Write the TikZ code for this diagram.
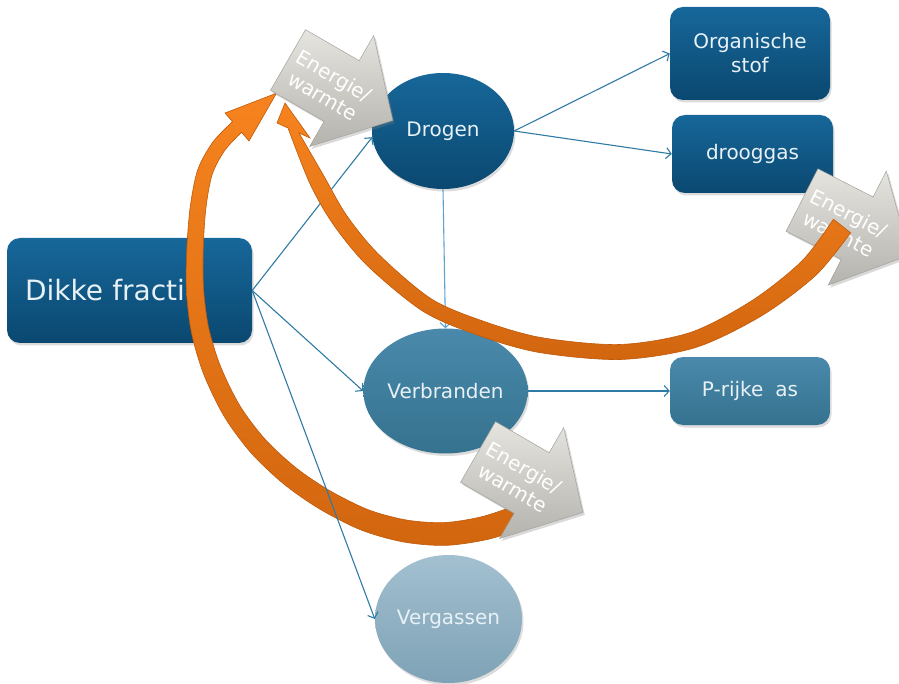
\documentclass[tikz,border=0pt]{standalone}
\usepackage{fontspec}
\setmainfont{DejaVu Sans}
\usetikzlibrary{arrows.meta,shadows,shapes.geometric}
\definecolor{bTop}{HTML}{17679A}
\definecolor{bBot}{HTML}{0A4870}
\definecolor{mTop}{HTML}{4A89AB}
\definecolor{mBot}{HTML}{35728F}
\definecolor{lTop}{HTML}{A2C0D0}
\definecolor{lBot}{HTML}{7FA2B6}
\definecolor{txt}{HTML}{E8F1F6}
\definecolor{lineblue}{HTML}{2E7BA5}
\definecolor{linelight}{HTML}{5FA2D2}
\definecolor{oTop}{HTML}{F6831E}
\definecolor{oBot}{HTML}{D2660F}
\definecolor{oEdge}{HTML}{C0590A}
\definecolor{gTop}{HTML}{E6E4DF}
\definecolor{gBot}{HTML}{B5B3AD}
\definecolor{gEdge}{HTML}{A3A19B}
\tikzset{
 shapebase/.style={draw=none, text=txt, align=center, inner sep=0pt, font=\fontsize{20}{24}\selectfont, drop shadow={opacity=0.28, shadow xshift=1.5pt, shadow yshift=-2.5pt}},
 box/.style={shapebase, rectangle, rounded corners=13pt},
 ell/.style={shapebase, ellipse},
 darkfill/.style={top color=bTop, bottom color=bBot},
 midfill/.style={top color=mTop, bottom color=mBot},
 lightfill/.style={top color=lTop, bottom color=lBot},
 conn/.style={draw=lineblue, line width=1.1pt, -{Straight Barb[length=5pt,width=11pt,line width=1.1pt]}},
 orangearrow/.style={top color=oTop, bottom color=oBot, draw=oEdge, line width=0.6pt},
 greyarrow/.style={top color=gTop, bottom color=gBot, draw=gEdge, line width=0.5pt, drop shadow={opacity=0.3, shadow xshift=2pt, shadow yshift=-2.5pt}},
 entext/.style={transform shape, text=white, align=center, inner sep=0pt, font=\fontsize{20}{23}\selectfont},
}
\newcommand\EnArrow[4]{%
 \begin{scope}[shift={#2},rotate=#3,scale=#4]
 \path[greyarrow] (0,-35) -- (62,-35) -- (62,-64) -- (121,0) -- (62,64) -- (62,35) -- (0,35) -- cycle;
 \node[entext] (#1) at (48,2) {Energie/\\warmte};
 \end{scope}}
\begin{document}
\begin{tikzpicture}[x=1pt,y=-1pt]
\useasboundingbox (0,0) rectangle (899,684);
% nodes
\node[box,darkfill,minimum width=245pt,minimum height=105pt,text width=209pt,inner xsep=18pt,align=left,font=\fontsize{28}{32}\selectfont] (dikke) at (129.5,290.5) {Dikke fractie};
\node[box,darkfill,minimum width=160pt,minimum height=93pt] (org) at (750,53.5) {Organische\\stof};
\node[box,darkfill,minimum width=161pt,minimum height=78pt] (droog) at (752.5,154) {drooggas};
\node[box,midfill,minimum width=160pt,minimum height=68pt] (prijke) at (750,391) {P-rijke\hspace{0.6em}as};
\node[ell,darkfill,minimum width=142pt,minimum height=116pt] (drogen) at (443,131) {Drogen};
\node[ell,midfill,minimum width=145pt,minimum height=125pt] (verbr) at (445.5,391) {Verbranden};
\node[ell,lightfill,minimum width=147pt,minimum height=128pt] (verg) at (448.5,619) {Vergassen};
% orange arrow A (from Verbranden heat to Drogen)
\path[orangearrow] plot[smooth] coordinates {(525.7,527.4) (487.7,539.4) (445.4,545.4) (403.1,541.9) (361.1,530.0) (319.7,509.0) (283.7,483.9) (250.7,452.5) (223.9,415.9) (203.4,373.4) (191.3,331.9) (186.4,290.5) (186.8,249.7) (190.2,207.0) (197.8,169.6) (213.1,141.8) (232.5,121.7)}
 -- (225,113) -- (276.5,93.2) -- (249,141)
 -- plot[smooth] coordinates {(241.6,132.3) (224.9,150.2) (212.2,174.4) (205.8,209.0) (203.2,250.3) (203.6,289.5) (208.7,328.1) (220.6,366.6) (240.1,406.1) (265.3,439.5) (296.3,468.1) (330.3,491.0) (368.9,510.0) (406.9,520.1) (444.6,522.6) (482.3,516.6) (518.3,504.6)} -- cycle;
% connectors
\draw[conn] (dikke.east) -- (drogen.185);
\draw[conn] (dikke.east) -- (verbr.west);
\draw[conn] (dikke.east) -- (verg.west);
\draw[conn] (drogen.east) -- (org.west);
\draw[conn] (drogen.east) -- (droog.west);
\draw[conn,draw=linelight] (drogen.south) -- (verbr.north);
\draw[conn] (verbr.east) -- (prijke.west);
% grey arrow at drooggas
\EnArrow{e2}{(802,200)}{-27}{1}
% orange arrow B (from drooggas heat to Drogen)
\path[orangearrow] plot[smooth] coordinates {(850.6,232.8) (815.9,275.2) (761.7,315.7) (695.4,347.6) (620.2,359.5) (538.7,352.4) (477.5,335.1) (423.0,311.3) (367.4,265.7) (333.4,224.6) (310.0,183.8) (288,128)}
 -- (277,123) -- (285,103) -- (310,138)
 -- plot[smooth] coordinates {(299,133) (324.0,176.2) (346.6,215.4) (378.6,254.3) (431.0,298.7) (482.5,320.9) (541.3,337.6) (619.8,344.5) (690.6,332.4) (752.3,300.4) (802.1,260.8) (833.4,219.2)} -- cycle;
% grey arrows at Drogen and Verbranden
\EnArrow{e1}{(288,60)}{-30}{1}
\EnArrow{e3}{(478,452)}{-30}{1}
\end{tikzpicture}
\end{document}
